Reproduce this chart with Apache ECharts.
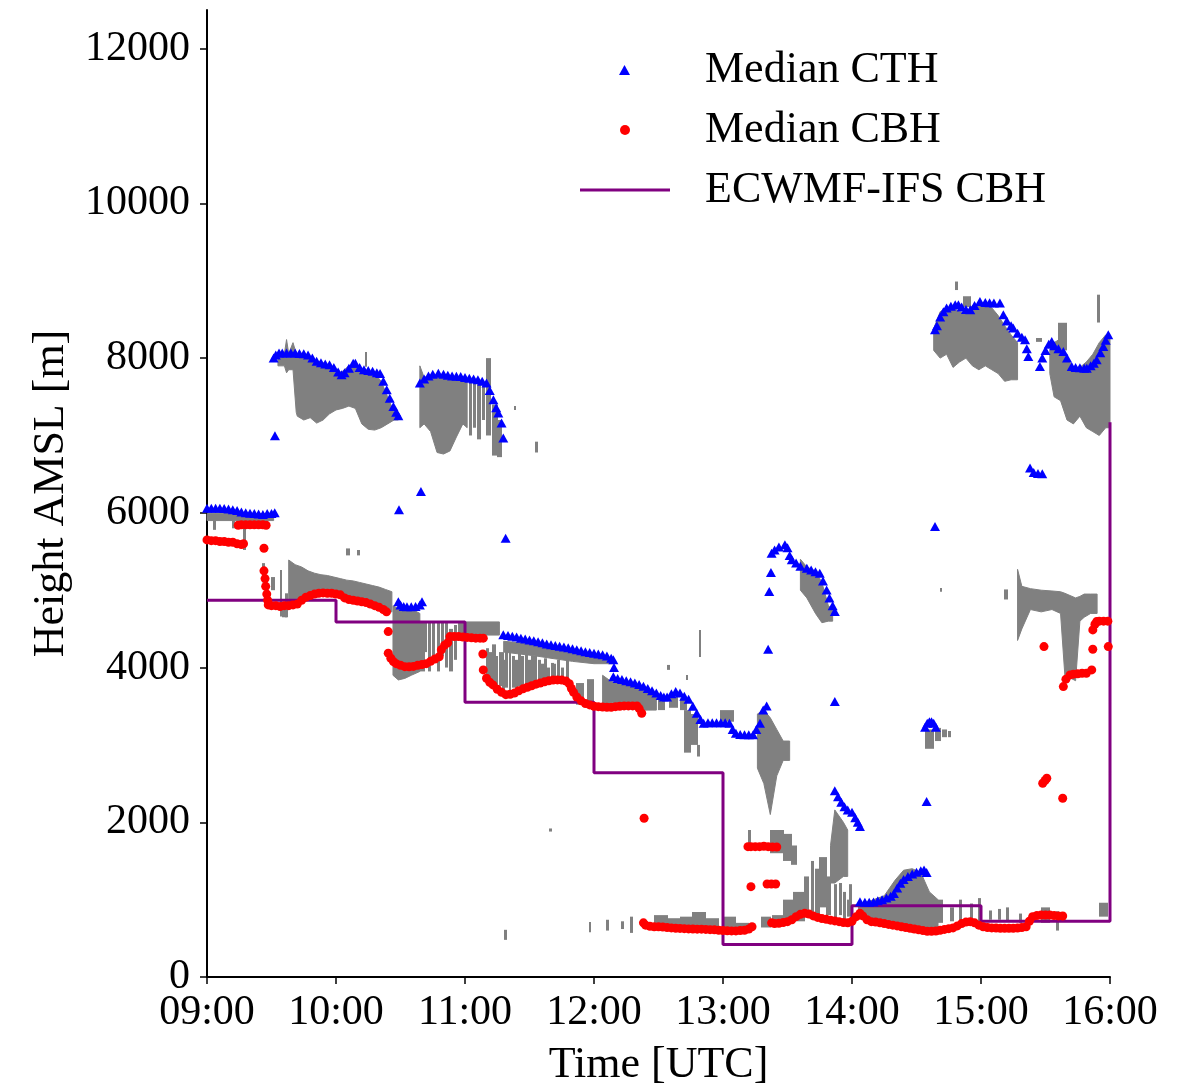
<!DOCTYPE html>
<html>
<head>
<meta charset="utf-8">
<script src="https://cdn.jsdelivr.net/npm/echarts@6/dist/echarts.min.js"></script>
<style>
html,body{margin:0;padding:0;background:#fff;}
#chart{width:1183px;height:1087px;}
</style>
</head>
<body>
<div id="chart"></div>
<script>
// x values: minutes after 09:00 UTC ; y values: height AMSL in metres
const xTickMinutes = [0, 60, 120, 180, 240, 300, 360, 420];
const yTickValues = [0, 2000, 4000, 6000, 8000, 10000, 12000];

// Median cloud top height [minute, m]
const cthPoints = [
  [0,6060],[2,6060],[4,6060],[6,6060],[8,6055],[10,6050],[12,6040],[14,6030],[16,6010],[18,6000],[20,5995],[22,5990],[24,5985],[26,5980],[28,5990],[30,5990],[31.5,6000],
  [31,8000],[32,8040],[33.5,8065],[35,8065],[37,8065],[39,8065],[41,8065],[43,8060],[45,8055],[47,8040],[49,8000],[51,7960],[53,7940],[55,7925],[57,7915],[59,7880],[61,7820],[62.6,7784],[64,7810],[66,7870],[68,7935],[69,7935],[71,7880],[73,7850],[75,7840],[77,7830],[79,7810],[80.5,7800],[82,7700],[83.6,7590],[85,7480],[86.7,7374],[88,7300],[89,7254],
  [99,7677],[101,7730],[103,7770],[105,7790],[107.6,7806],[110,7790],[112,7780],[114,7770],[116,7765],[118,7762],[120,7750],[122,7740],[124,7730],[126,7720],[128,7700],[130,7677],[131.5,7580],[133.2,7461],[134.5,7360],[135.5,7289],[137,7160],[137.8,6966],
  [31.6,6995],[89.3,6039],[99.5,6275],[138.9,5673],
  [89,4850],[90,4810],[91.5,4790],[93,4785],[95,4785],[97,4790],[99,4810],[100,4850],
  [137.8,4425],[140,4415],[142,4405],[144,4395],[146,4380],[148,4370],[150,4355],[152,4345],[154,4333],[156,4320],[158,4305],[160,4295],[162,4285],[164,4275],[166,4265],[168,4255],[170,4243],[172,4230],[174,4218],[176,4205],[178,4195],[180,4185],[182,4175],[184,4165],[186,4150],[188,4120],[189,4100],
  [189.3,4000],
  [189,3880],[191,3860],[193,3845],[195,3830],[197,3815],[199,3800],[201,3780],[203,3760],[205,3730],[207,3700],[209,3670],[211,3640],[212.5,3620],[214,3620],[216,3660],[218,3690],[220,3670],[222,3630],[224,3590],[226,3500],[227.8,3410],[229.5,3330],[231,3280],[233,3285],[235,3288],[237,3288],[239,3288],[241,3288],[243,3280],[244.5,3200],[246,3151],[248,3135],[250,3130],[252,3130],[254,3130],[255.5,3200],[257.2,3280],[258.7,3452],[260.3,3504],
  [262.6,5479],[264,5520],[266,5560],[268.8,5586],[270,5550],[271,5450],[272,5392],[274,5350],[276,5310],[279,5285],[281,5260],[283,5240],[285,5220],[286.5,5120],[288.2,5004],[289.5,4900],[291,4800],[292,4724],
  [262.3,5228],[261.5,4982],[261,4237],[292,3560],[338.6,5823],[334.7,2267],
  [292,2409],[293.5,2330],[295,2260],[296.5,2200],[298,2160],[300,2130],[301.5,2060],[302.7,2000],[303.7,1944],
  [303.7,974],[306,965],[308,965],[310,970],[312,985],[314,1000],[316,1020],[318,1045],[319.5,1080],[321,1150],[322.5,1212],[324,1260],[326,1300],[328,1330],[330,1355],[332,1375],[333.5,1384],[334.7,1350],
  [334,3230],[335,3280],[336,3300],[337,3300],[338,3280],[339,3230],
  [338.6,8366],[339.5,8420],[341,8530],[342.5,8600],[344,8647],[346,8670],[348,8690],[349.5,8690],[351,8660],[353,8630],[355,8625],[357,8680],[359.5,8732],[362,8720],[364,8715],[366,8712],[368.8,8711],[370.4,8560],[372,8480],[374,8420],[375,8388],[377,8320],[379,8270],[380.5,8237],[381.3,8120],[382,8021],
  [382.8,6580],[384.5,6520],[386.5,6510],[388.5,6505],
  [387.4,7892],[388.5,8000],[390,8100],[391.5,8180],[392.9,8215],[394,8160],[396,8120],[398.3,8086],[400,8000],[402.2,7892],[404,7880],[406,7875],[408,7870],[409.2,7870],[411,7900],[412.5,7935],[413.8,7978],[415.5,8070],[416.9,8150],[418,8230],[419.2,8301]
];

// Median cloud base height [minute, m]
const cbhPoints = [
  [0,5650],[2,5640],[4,5640],[6,5630],[8,5630],[10,5620],[12,5620],[14,5600],[16,5590],[17,5600],
  [14.5,5840],[16,5845],[18,5845],[20,5845],[22,5845],[24,5845],[26,5845],[27.5,5840],
  [26.5,5543],
  [26.5,5250],[27,5150],[27.3,5050],[27.8,4950],[28.2,4870],
  [28.5,4810],[30,4800],[32,4800],[34,4790],[36,4800],[38,4800],[40,4810],[42,4820],[44,4870],[46,4910],[48,4930],[50,4950],[52,4960],[54,4965],[56,4960],[58,4960],[60,4950],[62,4940],[64,4900],[66,4880],[68,4870],[70,4860],[72,4850],[74,4840],[76,4820],[78,4800],[80,4780],[82,4750],[83.5,4720],
  [84.3,4465],
  [84.3,4186],[85.5,4120],[86.7,4077],[88,4050],[90,4030],[92,4012],[94,4010],[96,4015],[98,4030],[100,4040],[102,4050],[104,4080],[106,4110],[108,4140],[109,4230],[110.5,4290],[112,4320],
  [113,4400],[115,4400],[117,4400],[119,4395],[121,4390],[123,4385],[125,4380],[127,4380],[128.5,4380],
  [128.3,4175],
  [128.5,3970],[130,3862],[131.5,3810],[133,3776],[135,3720],[137,3680],[139,3650],[141,3655],[143,3670],[145,3700],[147,3725],[149,3745],[151,3765],[153,3785],[155,3800],[157,3815],[159,3830],[161,3838],[163,3840],[165,3838],[167,3825],[168.5,3790],[169.5,3730],[170.5,3680],[172,3620],[174,3570],[176,3535],[178,3517],
  [180,3500],[182,3495],[184,3490],[186,3487],[188,3487],[190,3495],[192,3500],[194,3504],[196,3504],[198,3504],[200,3504],[201,3470],[202.2,3410],
  [203.3,2052],
  [203,700],[204,670],[206,655],[208,650],[210,648],[212,645],[214,640],[216,635],[218,630],[220,628],[222,625],[224,622],[226,620],[228,618],[230,618],[232,615],[234,612],[236,610],[238,605],[240,600],[242,598],[244,596],[246,596],[248,600],[250,605],[252,620],[253.5,650],
  [251.6,1685],[253,1685],[255,1685],[257,1685],[259,1690],[261,1685],[263,1680],[265,1680],
  [253,1168],[260.5,1202],[262.5,1202],[264.5,1202],
  [262.6,700],[264,690],[266,695],[268,705],[270,715],[272,740],[274,780],[276,810],[278,823],[280,815],[282,790],[284,770],[286,755],[288,745],[290,735],[292,725],[294,715],[296,705],[298,700],[300,720],[302,780],[303.7,823],[305,790],[307,740],[309,715],[311,710],[313,700],[315,690],[317,680],[319,670],[321,660],[323,650],[325,640],[327,630],[329,620],[331,610],[333,600],[335,590],[337,590],[339,595],[341,605],[343,615],[345,625],[347,635],[349,660],[351,690],[353,710],[355,715],[357,700],[359,670],[361,650],[363,640],[365,635],[367,632],[369,630],[371,629],[373,629],[375,630],[377,632],[379,640],[381,650],[382.5,720],[384,780],[386,795],[388,800],[390,801],[392,800],[394,795],[396,790],[398,788],
  [398.3,3754],[399.5,3850],[401.4,3905],[403,3915],[405,3920],[407,3925],[409,3927],[411.5,3970],
  [412,4487],[413,4560],[413.8,4594],[415,4600],[417,4600],[419,4600],
  [389.3,4271],[412,4237],[419.2,4271],[390.6,2569],[388.7,2505],[389.8,2540],[398,2311]
];

// ECMWF-IFS model cloud base height, one value per hour [minute, m]
const ifsMinutes = [0, 60, 120, 180, 240, 300, 360, 420];
const ifsCbh = [4870, 4590, 3550, 2640, 420, 920, 720, 7170];

// Cloud mask, solid cloud bodies: each is a profile of [minute, bottom m, top m]
const cloudBlobs = [
  [[33,7900,8050],[36,7900,8060],[37,7810,8240],[38,7850,8060],[40,7850,8200],[41.5,7300,8060],[42,7250,8050],[45,7200,8040],[48,7230,8000],[51,7160,7960],[54,7200,7940],[57,7280,7900],[60,7330,7800],[63,7350,7830],[66,7380,7900],[69,7350,7880],[72,7150,7850],[75,7080,7820],[78,7070,7800],[81,7100,7700],[84,7150,7500],[87,7200,7300],[89,7200,7260]],
  [[38,4800,5390],[41,4850,5330],[44,4880,5300],[47,4900,5250],[50,4920,5220],[53,4930,5200],[56,4930,5190],[59,4930,5170],[62,4920,5150],[65,4900,5130],[68,4880,5120],[71,4850,5100],[74,4820,5080],[77,4780,5060],[80,4750,5040],[83,4720,5010],[86,4720,4980]],
  [[86.5,3900,4800],[89,3840,4760],[92,3860,4780],[95,3900,4760],[99,3950,4700]],
  [[99,7100,7900],[101,7150,7750],[104,7050,7780],[107,6780,7780],[110,6760,7770],[113,6800,7760],[116,6980,7750],[119,7150,7740],[121,7100,7730]],
  [[338,8100,8380],[341,8000,8600],[344,8050,8650],[347,7880,8650],[350,7950,8600],[353,8000,8580],[356,7900,8680],[359,7850,8680],[362,7900,8670],[365,7850,8650],[368,7800,8550],[371,7700,8420],[374,7720,8300],[377,7720,8200]],
  [[392,7800,8100],[394,7500,8200],[397,7450,8250],[400,7200,8000],[403,7150,7880],[406,7250,7880],[409,7100,7950],[412,7050,8050],[415,7000,8200],[418,7100,8300],[420,7100,8300]],
  [[377,4350,5270],[379,4500,5050],[383,4750,5020],[388,4720,5000],[393,4750,4990],[397,4700,4980],[399,3900,4960],[404,3830,4900],[406,4600,4920],[408,4650,4950],[411,4700,4950],[414,4700,4950]],
  [[256,2700,3400],[259,2500,3450],[262,2100,3350],[265,2600,3200],[268,2800,3050],[271,2800,3050]],
  [[303,760,920],[310,720,1000],[315,700,1050],[320,680,1250],[324,650,1380],[328,640,1400],[332,620,1350],[336,620,1100],[340,620,1000]],
  [[276,5000,5400],[279,4900,5300],[283,4700,5250],[286,4580,5100],[289,4600,4800],[291,4600,4750]],
  [[138,4200,4340],[153,4150,4300],[160,4120,4270],[170,4080,4230],[180,4050,4170],[189,4050,4120]],
  [[184,3500,3900],[188,3550,3820],[191,3520,3800],[195,3500,3780],[199,3480,3760],[203,3450,3700],[207,3450,3650],[209,3450,3640]],
  [[117,4420,4590],[136,4420,4590]],
  [[0,5900,5990],[31,5900,5990]],
  [[290,1215,1700],[292,1215,2160],[296,1300,2000],[298,1300,1900]]
];

// Cloud mask, thin streaks: [start minute, end minute, bottom m, top m]
const cloudStreaks = [
  [3,4,5780,5900],[12,13,5800,5900],[17,18,5520,5900],[24,25,5800,5900],
  [26,26.7,5100,5350],[30,31.6,5000,5170],[34,34.7,4660,5260],[36.7,37.4,4650,4960],[35,37,4650,4790],
  [65,66.5,5450,5540],[70,70.7,5450,5520],
  [99,101,3950,4600],[101,102,4200,4600],[103,104,3950,4600],[105,106,4100,4580],[107,108,3950,4580],[109,110,4150,4580],[111,112,4000,4580],[113,114,3950,4500],[115,116,4100,4550],
  [130,131,3850,4250],[133,134,3800,4300],[136,138,3760,4200],[139,140,3740,4300],[142,143,3740,4150],[145,146,3760,4250],[148,149,3770,4200],[151,152,3790,4150],[154,155,3820,4100],[157,158,3830,4120],[160,161,3840,4060],[163,164,3840,4100],
  [131.5,132.3,3820,4200],[134.5,135.3,3760,4150],[137.5,138.3,3700,4100],[140.5,141.3,3700,4200],[143.5,144.3,3720,4100],[146.5,147.3,3740,4150],[149.5,150.3,3760,4100],[152.5,153.3,3800,4150],[155.5,156.3,3820,4050],[158.5,159.3,3830,4000],[161.5,162.3,3840,4050],[165,166,3850,4000],[167,168,3840,4100],
  [172,175,3520,3800],[177,180,3500,3850],
  [210,213,3450,3620],[215,219,3480,3640],[220,223,3450,3600],
  [222,225,2900,3450],[225,228,3000,3400],[228,229,2850,3000],
  [214.4,215,3970,4034],[222.8,223.4,3840,3905],[229,229.6,4138,4487],
  [239,245,3300,3450],
  [262,268,1600,1900],[268,272,1500,1850],[272,274,1450,1700],[252,253,1650,1900],
  [278,280,800,1300],[281,282,750,1500],[283,285,800,1400],[285,288,900,1550],[288,290,800,1300],[292,293,750,1200],[294,295,800,1215],[296,297,750,1100],[298,300,780,1000],[299,300,800,1200],
  [334,338,2950,3200],[339,341,3050,3220],[342,344,3100,3200],[345,346,3100,3180],
  [340,342,700,1000],[346,347,720,900],[350,351,720,1000],[355,356,730,950],[359,360,720,1020],[364,365,740,860],[368,369,740,880],[372,373,720,900],[378,379,700,820],[388,392,700,900],[395,396,600,850],[415,419,780,960],
  [348,349,8880,8990],[352,355,8660,8800],[414,415,8460,8820],[386,388,8210,8260],
  [396,400,8100,8457],
  [371,372.5,4880,5010],[341,341.7,4980,5030],
  [178,178.6,580,710],[186,186.6,600,740],[193,193.6,620,720],[197,197.7,570,780],[208,214,640,800],[214,220,630,760],[220,226,620,780],[226,232,610,840],[232,238,600,760],[240,246,600,780],[246,252,600,700],[258,262,640,780],[263,268,660,800],[268,273,700,1000],[273,278,720,1100],
  [138.6,139.2,480,610],[159.5,160.1,1880,1920],
  [73.5,74.2,7890,8080],
  [122,123,7000,7720],[124,125,7100,7700],[126,127,6950,7700],[128,129,7200,7650],[130,132,7000,8000],[133,135,6740,7400],[135,137,6720,7200],
  [143,143.6,7330,7380],[153,153.6,6780,6920]
];

const FONT = '"Liberation Serif", "DejaVu Serif", serif';
const GRAY = '#808080';
const pad = n => (n < 10 ? '0' : '') + n;

const chart = echarts.init(document.getElementById('chart'), null, {renderer: 'canvas'});

const legendText = {fontFamily: FONT, fontSize: 44, color: '#000'};

const option = {
  animation: false,
  backgroundColor: '#ffffff',
  grid: {left: 207, right: 73, top: 10, bottom: 110, containLabel: false, outerBoundsMode: 'none'},
  legend: [
    {data: ['Median CTH'], left: 619, top: 48, orient: 'vertical', padding: 0, itemWidth: 11, itemHeight: 10,
     textStyle: Object.assign({padding: [0, 0, 0, 70]}, legendText)},
    {data: ['Median CBH'], left: 620, top: 108, orient: 'vertical', padding: 0, itemWidth: 10, itemHeight: 10,
     textStyle: Object.assign({padding: [0, 0, 0, 70]}, legendText)},
    {data: [{name: 'ECWMF-IFS CBH', icon: 'rect'}], left: 580, top: 168, orient: 'vertical', padding: 0, itemWidth: 90, itemHeight: 3,
     textStyle: Object.assign({padding: [0, 0, 0, 30]}, legendText)}
  ],
  xAxis: {
    type: 'value', min: 0, max: 420, interval: 60,
    name: 'Time [UTC]', nameLocation: 'middle', nameGap: 66,
    nameTextStyle: {fontFamily: FONT, fontSize: 44, color: '#000'},
    axisLine: {show: true, lineStyle: {color: '#000', width: 2}},
    axisTick: {show: true, length: 7, lineStyle: {color: '#000', width: 1.5}, customValues: xTickMinutes},
    axisLabel: {fontFamily: FONT, fontSize: 42, color: '#000', margin: 15, customValues: xTickMinutes,
      formatter: v => pad(9 + Math.round(v / 60)) + ':00'},
    splitLine: {show: false}
  },
  yAxis: {
    type: 'value', min: 0, max: 12500, interval: 2000,
    name: 'Height AMSL [m]', nameLocation: 'middle', nameGap: 134, nameRotate: 90,
    nameTextStyle: {fontFamily: FONT, fontSize: 44, color: '#000'},
    axisLine: {show: true, lineStyle: {color: '#000', width: 2}},
    axisTick: {show: true, length: 7, lineStyle: {color: '#000', width: 1.5}, customValues: yTickValues},
    axisLabel: {fontFamily: FONT, fontSize: 42, color: '#000', margin: 17, customValues: yTickValues,
      formatter: v => String(v)},
    splitLine: {show: false}
  },
  series: [
    {
      name: 'cloud bodies', type: 'custom', z: 1, silent: true,
      data: cloudBlobs.map((b, i) => [b[0][0], b[0][1], b[b.length - 1][0], b[0][2], i]),
      encode: {x: [0, 2], y: [1, 3]},
      renderItem: function (params, api) {
        const prof = cloudBlobs[api.value(4)];
        const pts = [];
        prof.forEach(p => pts.push(api.coord([p[0], p[2]])));
        for (let k = prof.length - 1; k >= 0; k--) pts.push(api.coord([prof[k][0], prof[k][1]]));
        return {type: 'polygon', shape: {points: pts}, style: {fill: GRAY, stroke: GRAY, lineWidth: 1}};
      }
    },
    {
      name: 'cloud streaks', type: 'custom', z: 1, silent: true,
      data: cloudStreaks,
      encode: {x: [0, 1], y: [2, 3]},
      renderItem: function (params, api) {
        const p0 = api.coord([api.value(0), api.value(3)]);
        const p1 = api.coord([api.value(1), api.value(2)]);
        const x0 = Math.floor(p0[0]);
        const x1 = Math.max(Math.ceil(p1[0]), x0 + 2);
        const shape = echarts.graphic.clipRectByRect({
          x: x0, y: p0[1], width: x1 - x0, height: p1[1] - p0[1]
        }, {
          x: params.coordSys.x, y: params.coordSys.y, width: params.coordSys.width, height: params.coordSys.height
        });
        return shape && {type: 'rect', shape: shape, style: {fill: GRAY}};
      }
    },
    {
      name: 'ECWMF-IFS CBH', type: 'line', step: 'end', z: 2,
      data: ifsMinutes.map((m, i) => [m, ifsCbh[i]]),
      symbol: 'none', showSymbol: false,
      lineStyle: {color: '#800080', width: 3},
      itemStyle: {color: '#800080'},
      clip: true
    },
    {
      name: 'Median CTH', type: 'scatter', z: 3,
      data: cthPoints, symbol: 'triangle', symbolSize: [10, 9],
      itemStyle: {color: '#0000ff', opacity: 1}
    },
    {
      name: 'Median CBH', type: 'scatter', z: 3,
      data: cbhPoints, symbol: 'circle', symbolSize: 9,
      itemStyle: {color: '#ff0000', opacity: 1}
    }
  ]
};
chart.setOption(option);
</script>
</body>
</html>
